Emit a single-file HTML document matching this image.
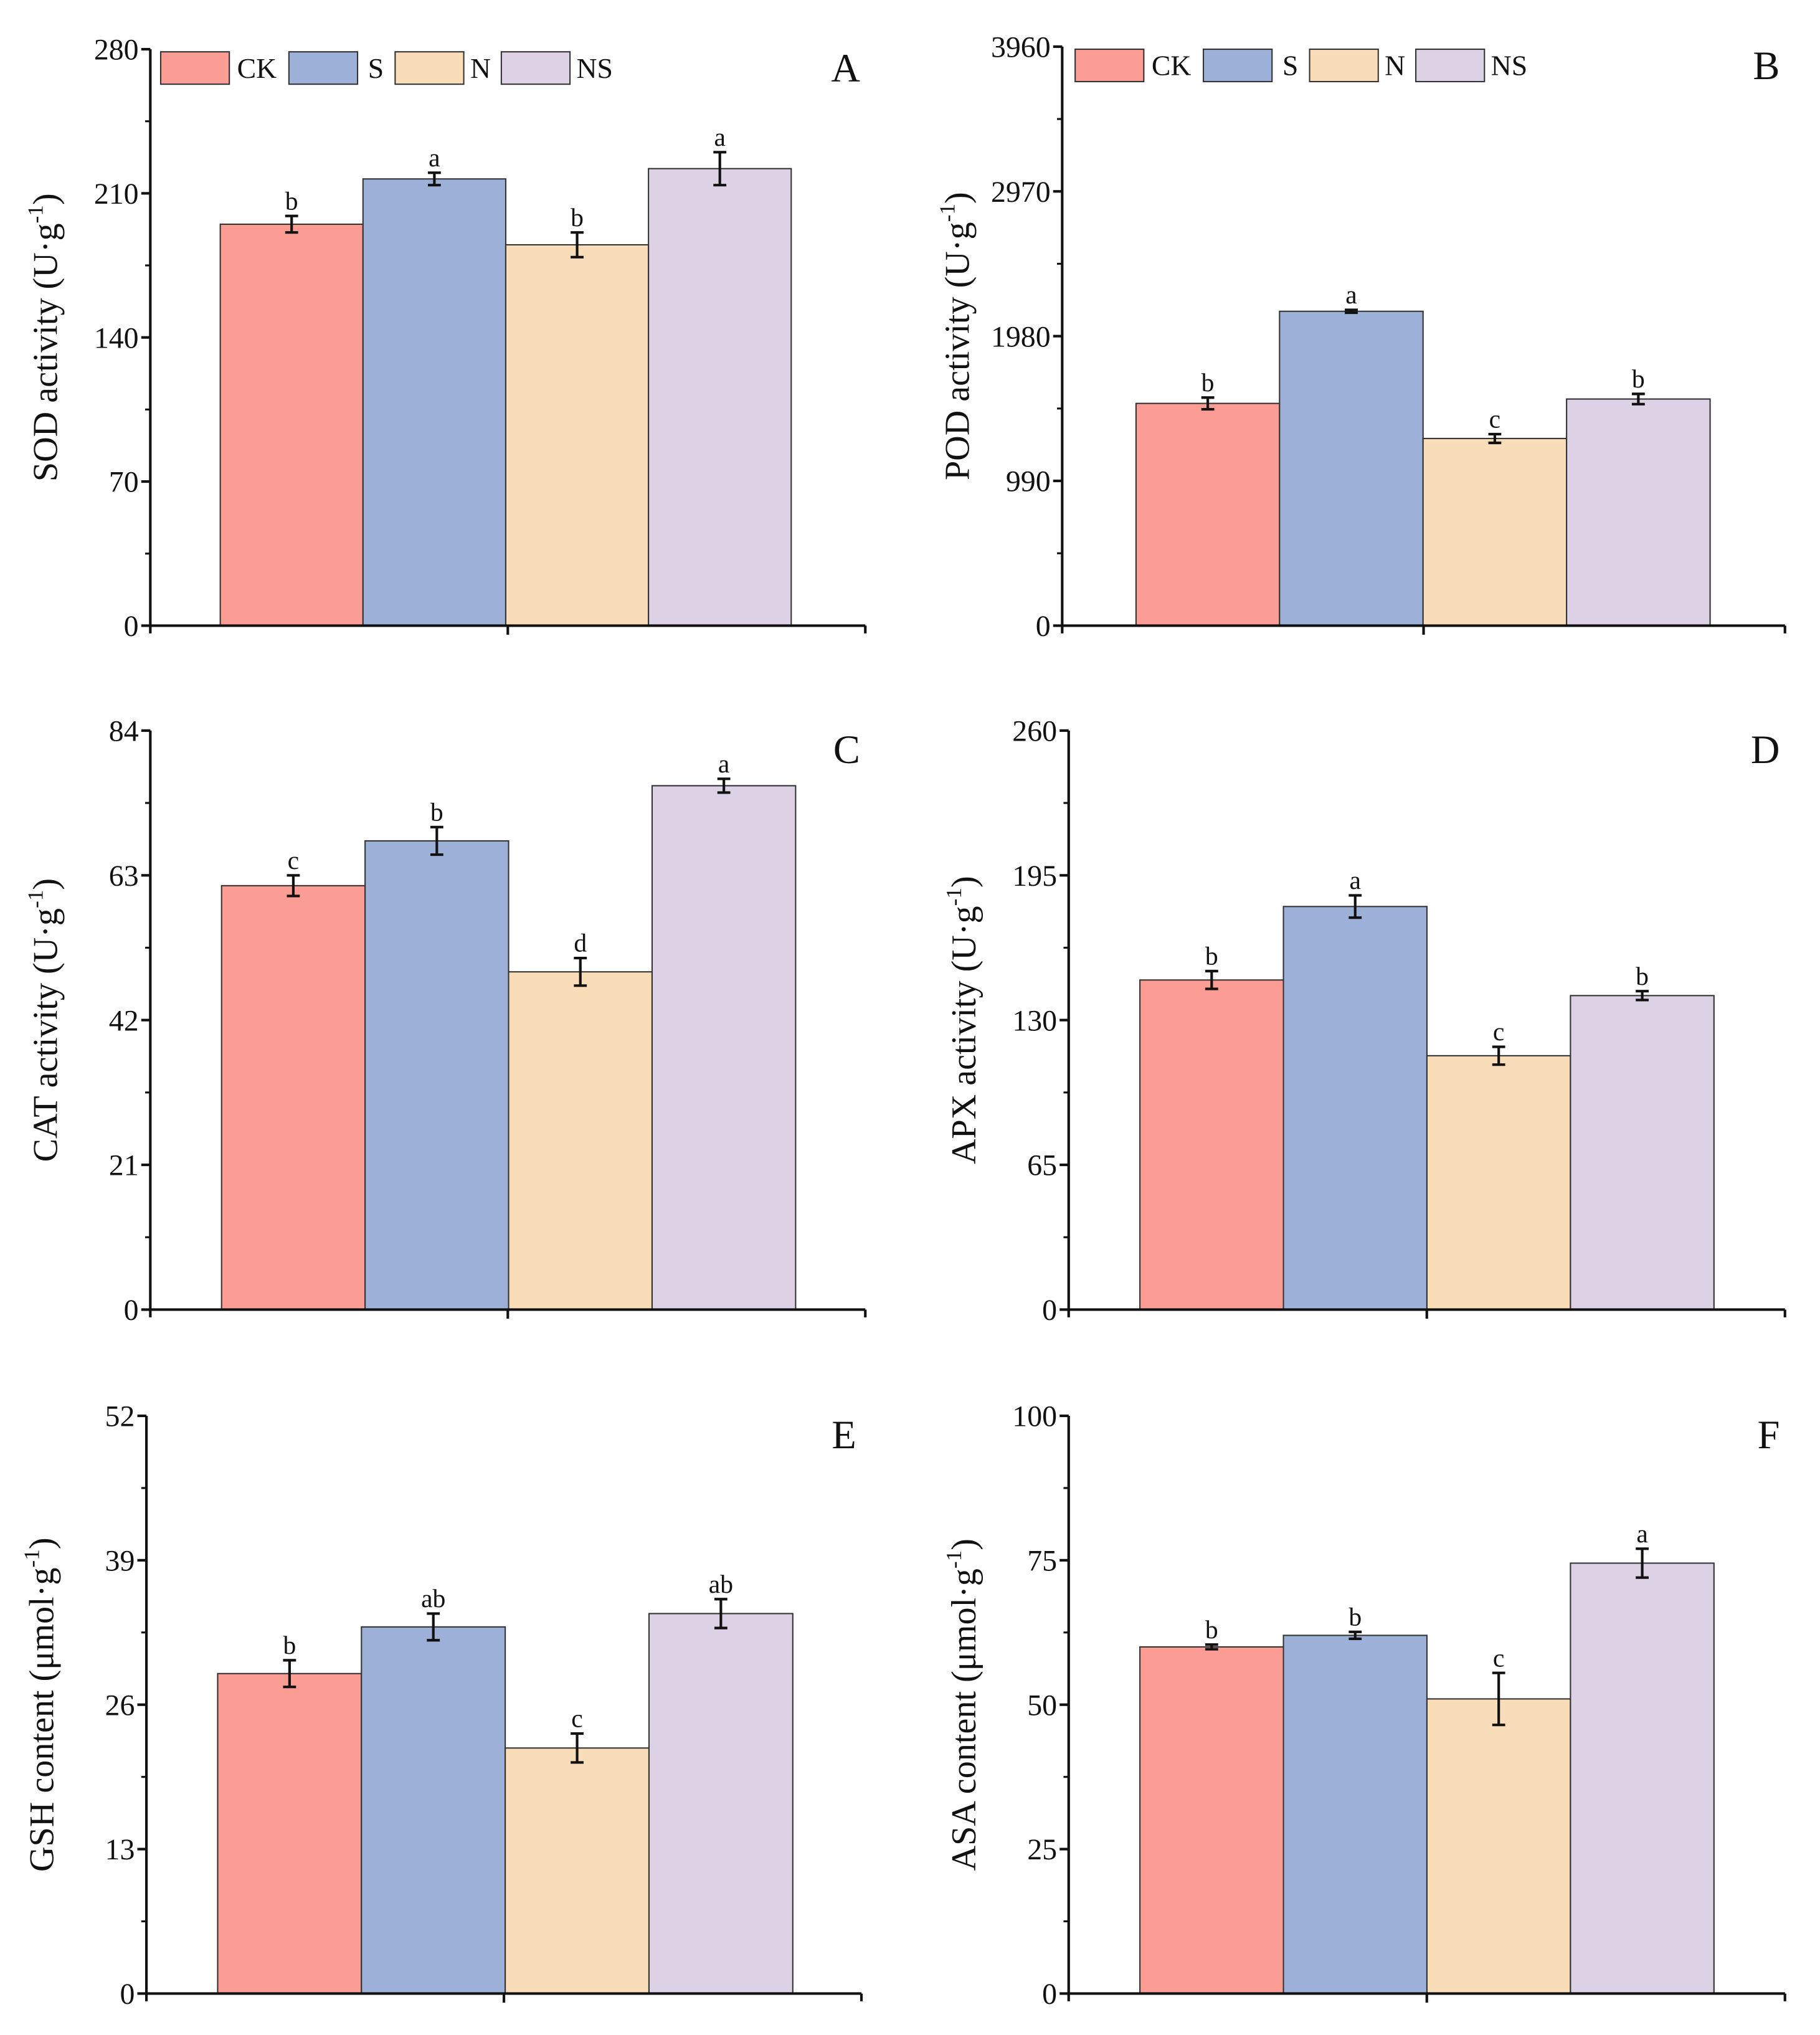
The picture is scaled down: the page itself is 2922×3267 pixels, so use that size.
<!DOCTYPE html>
<html><head><meta charset="utf-8"><style>body{margin:0;background:#fff}svg{display:block}text{font-family:"Liberation Serif",serif;fill:#111}</style></head>
<body>
<svg id="fig" width="2922" height="3267" viewBox="0 0 1405 1571" xmlns="http://www.w3.org/2000/svg"></svg>
<script>
const categories = ["CK","S","N","NS"];
const colors = ["#fb9d95","#9db0d8","#f8ddb8","#ddd1e5"];
const valsA = [195,217,185,222], errA = [4,3,6,8], letA = ["b","a","b","a"];
const valsB = [1520,2150,1280,1550], errB = [40,10,30,35], letB = ["b","a","c","b"];
const valsC = [61.5,68,49,76], errC = [1.5,2,2,1], letC = ["c","b","d","a"];
const valsD = [148,181,114,141], errD = [4,5,4,2], letD = ["b","a","c","b"];
const valsE = [28.8,33,22.1,34.2], errE = [1.2,1.2,1.3,1.3], letE = ["b","ab","c","ab"];
const valsF = [60,62,51,74.5], errF = [0.4,0.6,4.5,2.5], letF = ["b","b","c","a"];
const ticksA = [0,70,140,210,280], ticksB = [0,990,1980,2970,3960], ticksC = [0,21,42,63,84];
const ticksD = [0,65,130,195,260], ticksE = [0,13,26,39,52], ticksF = [0,25,50,75,100];

const panels = [
 {id:"A",ax:116,top:38,zero:483,b0:170,bw:110.2,end:668,vals:valsA,err:errA,let:letA,ticks:ticksA,label:"SOD activity (U·g",legend:124},
 {id:"B",ax:820,top:36,zero:483,b0:877,bw:110.8,end:1378,vals:valsB,err:errB,let:letB,ticks:ticksB,label:"POD activity (U·g",legend:830},
 {id:"C",ax:116,top:564,zero:1011,b0:171,bw:110.8,end:668,vals:valsC,err:errC,let:letC,ticks:ticksC,label:"CAT activity (U·g"},
 {id:"D",ax:825,top:564,zero:1011,b0:880,bw:110.8,end:1378,vals:valsD,err:errD,let:letD,ticks:ticksD,label:"APX activity (U·g"},
 {id:"E",ax:113,top:1093,zero:1539,b0:168,bw:111,end:665,vals:valsE,err:errE,let:letE,ticks:ticksE,label:"GSH content (μmol·g"},
 {id:"F",ax:825,top:1093,zero:1539,b0:880,bw:110.8,end:1378,vals:valsF,err:errF,let:letF,ticks:ticksF,label:"ASA content (μmol·g"}
];
const NS="http://www.w3.org/2000/svg", svg=document.getElementById("fig");
function mk(tag,attrs,parent,txt){const e=document.createElementNS(NS,tag);for(const k in attrs)e.setAttribute(k,attrs[k]);if(txt!==undefined)e.textContent=txt;(parent||svg).appendChild(e);return e;}
panels.forEach(p=>{
 const g=mk("g",{});
 
 
 const max=p.ticks[p.ticks.length-1];
 const y=v=>p.zero-(v/max)*(p.zero-p.top);
 p.vals.forEach((v,i)=>{
  const x=p.b0+i*p.bw;
  const r=mk("rect",{x:x,y:y(v),width:p.bw,height:p.zero-y(v),fill:colors[i],stroke:"#333","stroke-width":1},g);
  
  
  const cx=x+p.bw/2,e=p.err[i];
  const eb=mk("path",{d:`M${cx-5},${y(v+e)}H${cx+5}M${cx},${y(v+e)}V${y(v-e)}M${cx-5},${y(v-e)}H${cx+5}`,stroke:"#111","stroke-width":2,fill:"none"},g);
  
  
  const t=mk("text",{x:cx,y:y(v+e)-5,"text-anchor":"middle","font-size":20},g,p.let[i]);
  
  
 });
 const ax=mk("path",{d:`M${p.ax},${p.top}V${p.zero}H${p.end}M${p.ax},${p.zero}v6M${(p.ax+p.end)/2},${p.zero}v7M${p.end},${p.zero}v6`,stroke:"#111","stroke-width":2,fill:"none"},g);
 
 
 p.ticks.forEach((tv,i)=>{
  mk("line",{x1:p.ax-7,x2:p.ax,y1:y(tv),y2:y(tv),stroke:"#111","stroke-width":2},g);
  if(i<p.ticks.length-1){const m=(tv+p.ticks[i+1])/2;mk("line",{x1:p.ax-4,x2:p.ax,y1:y(m),y2:y(m),stroke:"#111","stroke-width":1.5},g);}
  const tl=mk("text",{x:p.ax-9,y:y(tv)+8,"text-anchor":"end","font-size":23},g,String(tv));
  
  
 });
 const lx=p.ax-72, ly=(p.top+p.zero)/2;
 const yl=mk("text",{x:0,y:0,"text-anchor":"middle","font-size":27,transform:`translate(${lx},${ly}) rotate(-90)`},g);
 
 
 mk("tspan",{},yl,p.label);
 mk("tspan",{dy:-11,"font-size":17},yl,"-1");
 mk("tspan",{dy:11},yl,")");
 const pl=mk("text",{x:p.end-4,y:p.top+25,"text-anchor":"end","font-size":31},g,p.id);
 
 
 if(p.legend){
  const offs=[0,99,181,263], toffs=[59,160,239,321];
  categories.forEach((c,i)=>{
   const lg=mk("g",{},g);
   
   
   mk("rect",{x:p.legend+offs[i],y:p.top+2,width:53,height:25,fill:colors[i],stroke:"#333","stroke-width":1},lg);
   mk("text",{x:p.legend+toffs[i],y:p.top+22,"font-size":22},lg,c);
  });
 }
});
</script>
</body></html>
